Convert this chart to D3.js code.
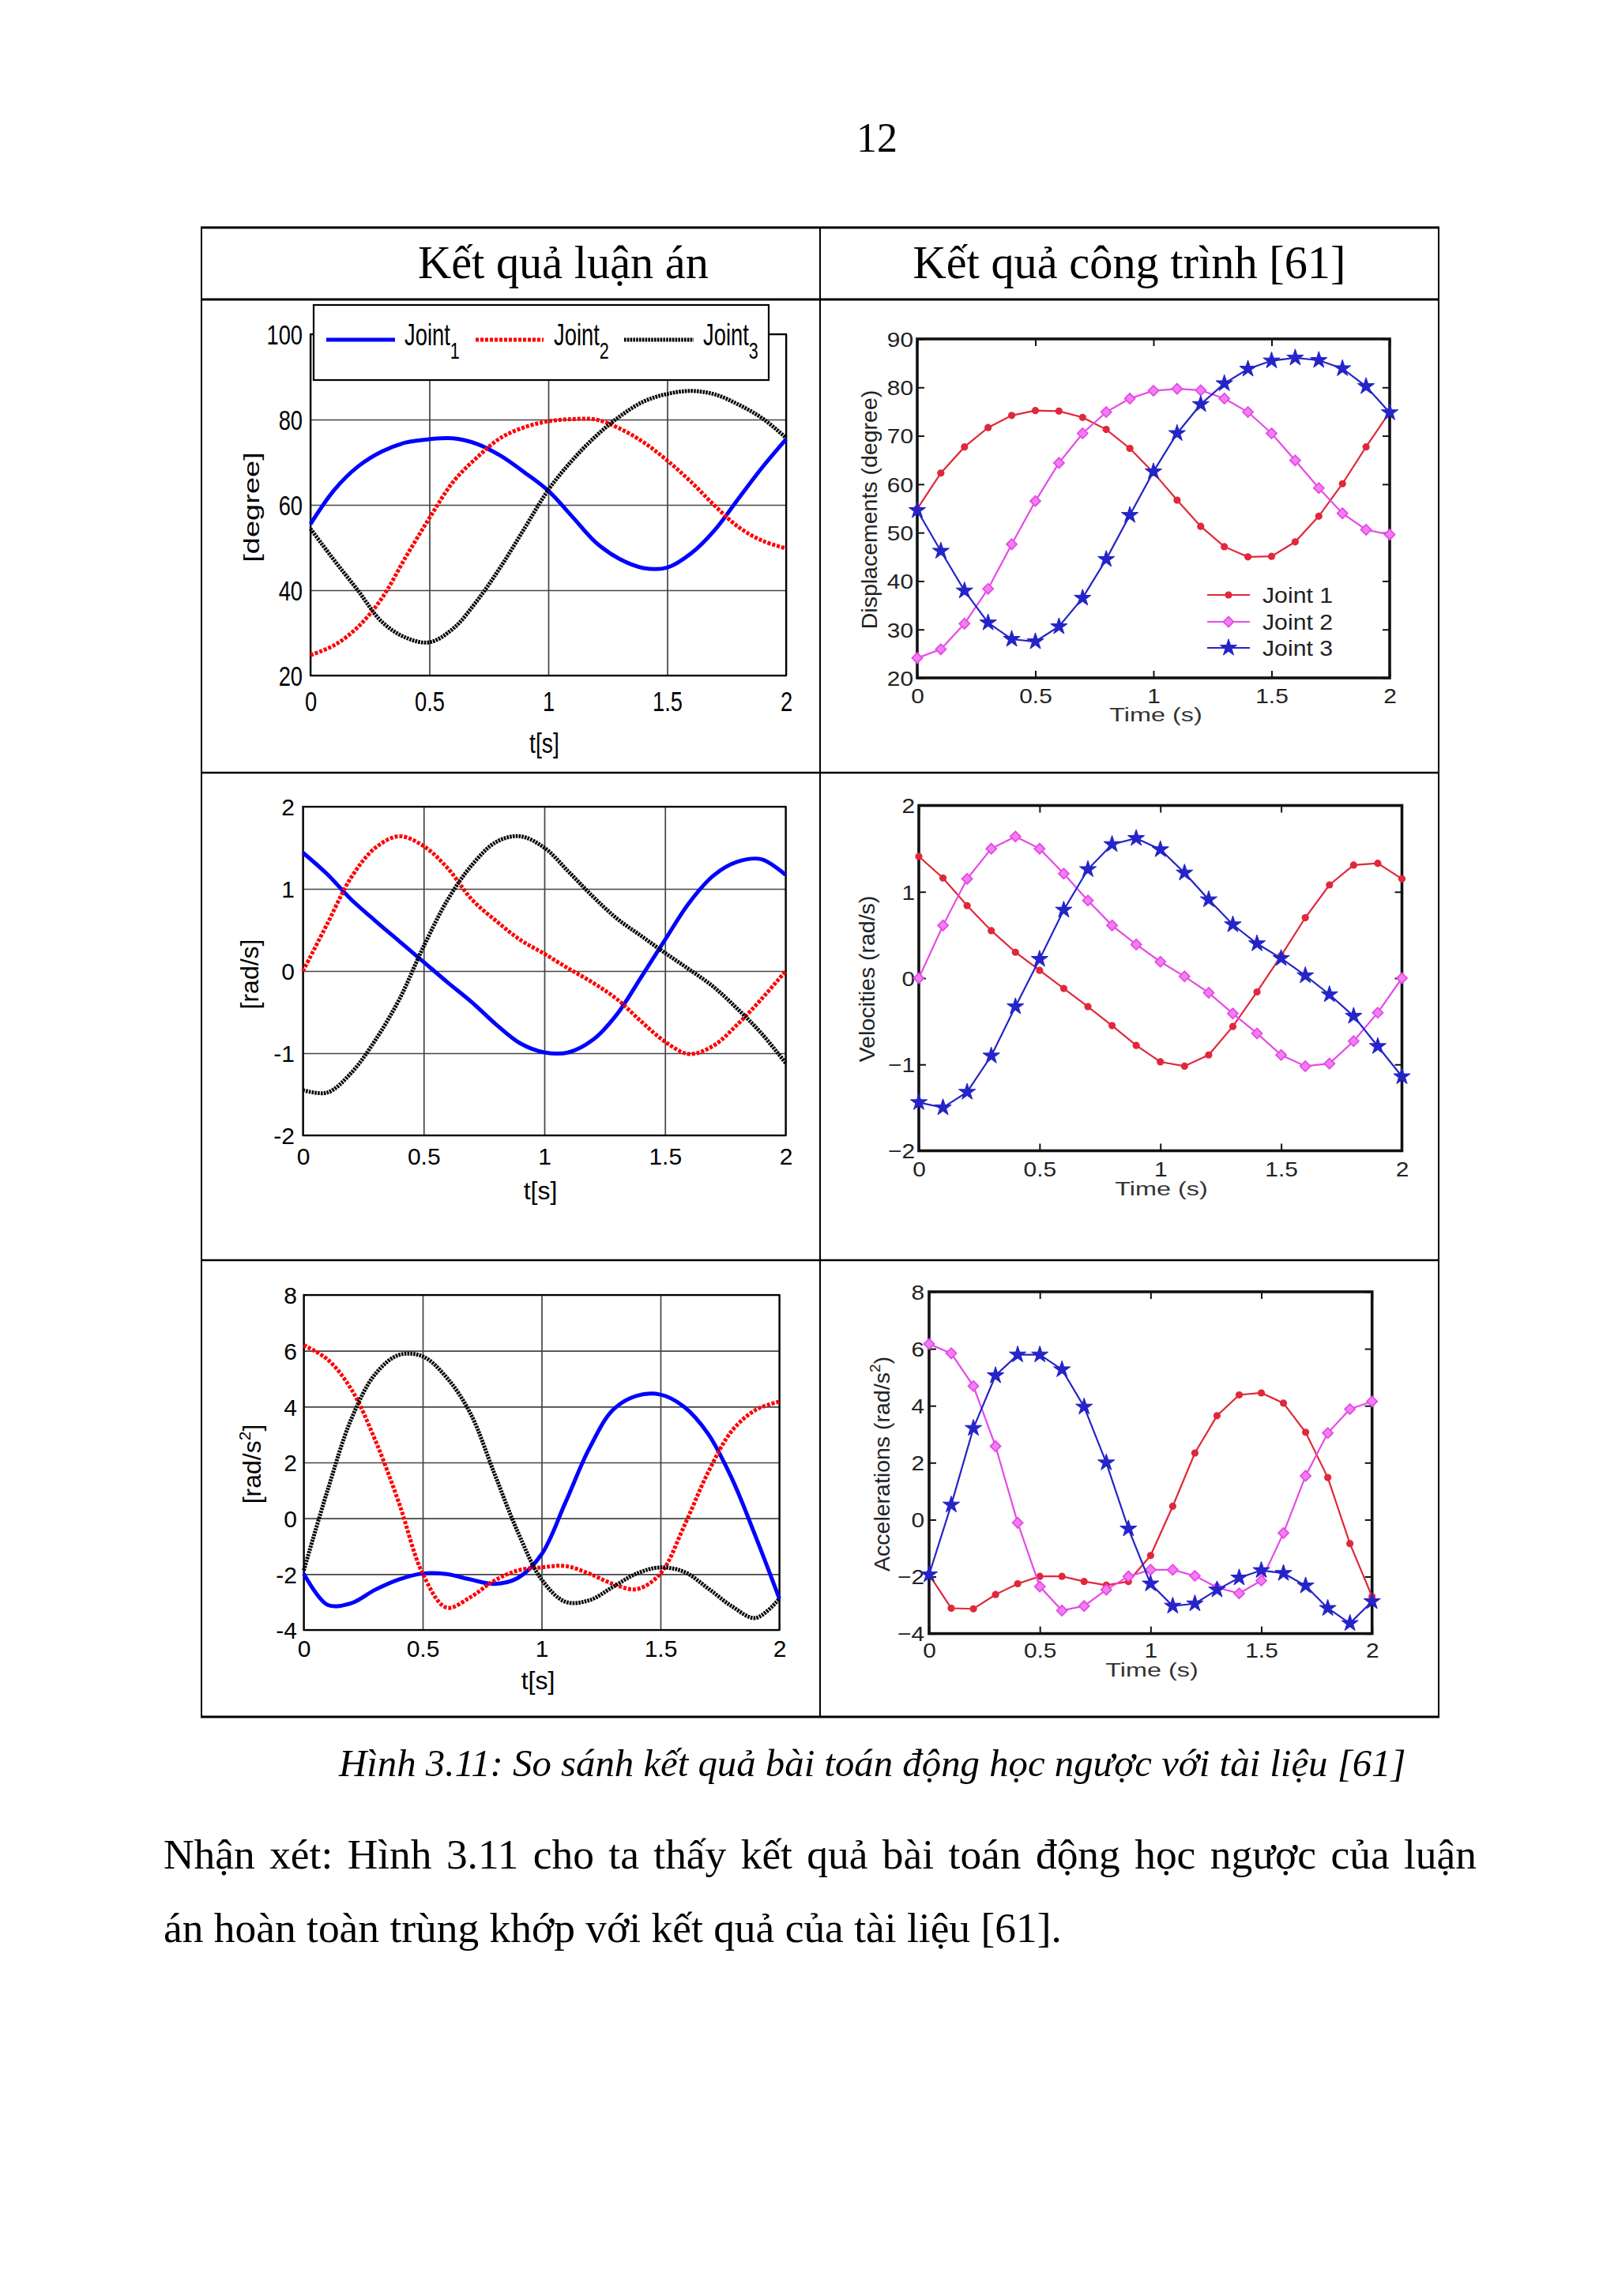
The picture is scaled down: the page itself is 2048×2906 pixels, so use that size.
<!DOCTYPE html>
<html><head><meta charset="utf-8">
<script src="https://cdn.jsdelivr.net/npm/d3@7"></script>
<style>html,body{margin:0;padding:0;background:#fff} svg{display:block}</style>
</head><body>
<svg id="c" width="2048" height="2906"></svg>
<script>
// ---------------- DATA ----------------
const TIME = [0, 0.1, 0.2, 0.3, 0.4, 0.5, 0.6, 0.7, 0.8, 0.9, 1.0, 1.1, 1.2, 1.3, 1.4, 1.5, 1.6, 1.7, 1.8, 1.9, 2.0];
const X_TICKS = [0, 0.5, 1, 1.5, 2];
const Y_TICKS_POS_L = [20, 40, 60, 80, 100];
const Y_TICKS_POS_R = [20, 30, 40, 50, 60, 70, 80, 90];
const Y_TICKS_VEL = [-2, -1, 0, 1, 2];
const Y_TICKS_ACC = [-4, -2, 0, 2, 4, 6, 8];

// left column (Kết quả luận án)
const POS_L_J1 = [55.5, 63.5, 69.0, 72.5, 74.6, 75.4, 75.6, 74.3, 71.5, 67.6, 63.3, 57.3, 51.2, 47.3, 45.2, 45.3, 48.6, 54.1, 61.5, 68.8, 75.4];
const POS_L_J2 = [24.8, 27.1, 31.4, 38.1, 47.7, 56.9, 65.4, 71.1, 75.7, 78.2, 79.6, 80.1, 80.0, 77.9, 74.7, 70.4, 65.4, 59.8, 54.8, 51.6, 49.8];
const POS_L_J3 = [54.4, 47.0, 39.9, 32.6, 28.9, 27.8, 31.0, 37.5, 45.5, 54.5, 63.5, 70.4, 76.1, 80.7, 84.2, 86.0, 86.7, 85.9, 83.5, 80.3, 75.7];
const VEL_L_J1 = [1.44, 1.18, 0.87, 0.61, 0.36, 0.11, -0.14, -0.38, -0.65, -0.88, -0.99, -0.99, -0.84, -0.53, -0.08, 0.38, 0.83, 1.16, 1.33, 1.36, 1.17];
const VEL_L_J2 = [0.0, 0.57, 1.14, 1.50, 1.64, 1.52, 1.25, 0.87, 0.61, 0.38, 0.21, 0.03, -0.14, -0.34, -0.61, -0.86, -1.01, -0.91, -0.65, -0.34, 0.0];
const VEL_L_J3 = [-1.45, -1.48, -1.24, -0.84, -0.34, 0.30, 0.87, 1.29, 1.57, 1.64, 1.50, 1.21, 0.91, 0.64, 0.43, 0.22, 0.02, -0.19, -0.46, -0.76, -1.12];
const ACC_L_J1 = [-1.98, -3.10, -3.04, -2.56, -2.19, -1.98, -2.00, -2.19, -2.35, -2.14, -1.29, 0.56, 2.49, 3.88, 4.39, 4.43, 3.99, 3.03, 1.43, -0.65, -2.88];
const ACC_L_J2 = [6.20, 5.69, 4.62, 2.81, 0.56, -1.98, -3.20, -2.83, -2.24, -1.87, -1.76, -1.71, -1.98, -2.35, -2.54, -1.98, -0.27, 1.64, 3.13, 3.88, 4.18];
const ACC_L_J3 = [-1.87, 1.00, 3.56, 5.16, 5.85, 5.80, 5.05, 3.77, 1.64, -0.49, -2.19, -2.99, -2.94, -2.46, -1.98, -1.76, -1.92, -2.51, -3.15, -3.57, -2.88];

// right column (Kết quả công trình [61])
const POS_R_J1 = [54.9, 62.3, 67.7, 71.7, 74.2, 75.2, 75.1, 73.8, 71.3, 67.4, 62.4, 56.7, 51.3, 47.1, 45.0, 45.1, 48.1, 53.4, 60.1, 67.7, 74.9];
const POS_R_J2 = [24.1, 25.9, 31.2, 38.4, 47.6, 56.5, 64.4, 70.5, 74.9, 77.7, 79.3, 79.7, 79.4, 77.7, 74.9, 70.5, 64.9, 59.2, 54.0, 50.6, 49.6];
const POS_R_J3 = [54.6, 46.2, 38.0, 31.4, 28.0, 27.5, 30.6, 36.5, 44.5, 53.6, 62.6, 70.5, 76.5, 80.8, 83.8, 85.5, 86.1, 85.6, 83.9, 80.2, 74.8];
const VEL_R_J1 = [1.41, 1.16, 0.84, 0.55, 0.30, 0.09, -0.12, -0.33, -0.55, -0.78, -0.97, -1.02, -0.89, -0.56, -0.16, 0.26, 0.70, 1.08, 1.31, 1.33, 1.15];
const VEL_R_J2 = [0.0, 0.61, 1.15, 1.50, 1.64, 1.50, 1.21, 0.90, 0.61, 0.39, 0.19, 0.02, -0.17, -0.41, -0.64, -0.89, -1.02, -0.99, -0.73, -0.40, 0.0];
const VEL_R_J3 = [-1.44, -1.50, -1.32, -0.90, -0.33, 0.22, 0.79, 1.26, 1.55, 1.62, 1.49, 1.22, 0.91, 0.62, 0.40, 0.23, 0.03, -0.19, -0.44, -0.79, -1.14];
const ACC_R_J1 = [-1.93, -3.11, -3.13, -2.63, -2.25, -1.99, -1.99, -2.17, -2.30, -2.17, -1.26, 0.47, 2.34, 3.65, 4.38, 4.45, 4.09, 3.07, 1.48, -0.84, -2.70];
const ACC_R_J2 = [6.17, 5.84, 4.69, 2.58, -0.11, -2.35, -3.19, -3.03, -2.46, -1.99, -1.76, -1.76, -1.97, -2.38, -2.59, -2.14, -0.47, 1.54, 3.04, 3.88, 4.15];
const ACC_R_J3 = [-1.93, 0.52, 3.21, 5.06, 5.79, 5.79, 5.27, 3.96, 2.00, -0.32, -2.25, -3.03, -2.95, -2.46, -2.04, -1.78, -1.88, -2.32, -3.11, -3.64, -2.87];

const LEGEND_LEFT = ['Joint', 'Joint', 'Joint'];
const LEGEND_LEFT_SUB = ['1', '2', '3'];
const LEGEND_RIGHT = ['Joint 1', 'Joint 2', 'Joint 3'];
const PAGE_NUMBER = '12';
const HEADERS = ['Kết quả luận án', 'Kết quả công trình [61]'];
const CAPTION = 'Hình 3.11: So sánh kết quả bài toán động học ngược với tài liệu [61]';
const BODY = ['Nhận xét: Hình 3.11 cho ta thấy kết quả bài toán động học ngược của luận',
              'án hoàn toàn trùng khớp với kết quả của tài liệu [61].'];

// ---------------- LAYOUT / STYLE ----------------
const SANS = "'Liberation Sans', Arial, Helvetica, sans-serif";
const SERIF = "'Liberation Serif', 'Times New Roman', serif";
const svg = d3.select('#c');
svg.append('rect').attr('width', 2048).attr('height', 2906).attr('fill', '#fff');

function put(parent, x, y, content, o = {}) {
  let tr = `translate(${x},${y})`;
  if (o.rot) tr += ` rotate(${o.rot})`;
  if ((o.sx || 1) !== 1 || (o.sy || 1) !== 1) tr += ` scale(${o.sx || 1},${o.sy || 1})`;
  const g = parent.append('g').attr('transform', tr);
  const size = o.size || 30;
  const t = g.append('text').attr('x', 0).attr('y', 0)
    .attr('font-family', o.family || SANS).attr('font-size', size)
    .attr('text-anchor', o.anchor || 'start').attr('fill', o.fill || '#000');
  if (o.dy) t.attr('dy', o.dy);
  if (o.italic) t.attr('font-style', 'italic');
  if (typeof content === 'string') t.text(content);
  else content.forEach(p => {
    const s = t.append('tspan').text(p.t);
    if (p.size) s.attr('font-size', p.size);
    if (p.dy) s.attr('dy', p.dy);
  });
  return t;
}

function styleAxisText(ax, size, sx, fill) {
  ax.selectAll('text').attr('font-size', size).attr('font-family', SANS).attr('fill', fill)
    .each(function () {
      const t = d3.select(this);
      const X = +t.attr('x') || 0;
      if (sx !== 1) t.attr('transform', `translate(${X},0) scale(${sx},1) translate(${-X},0)`);
    });
}

// ---------- table ----------
const TB = { l: 255, r: 1821, m: 1038, top: 288, h: 379, r1: 978, r2: 1595, bot: 2173 };
const tg = svg.append('g').attr('stroke', '#000');
[[TB.top, 3.2], [TB.h, 3], [TB.r1, 2.4], [TB.r2, 2.4], [TB.bot, 3.2]].forEach(([yy, w]) =>
  tg.append('line').attr('x1', TB.l - 1).attr('x2', TB.r + 1).attr('y1', yy).attr('y2', yy).attr('stroke-width', w));
[TB.l, TB.m, TB.r].forEach(xx =>
  tg.append('line').attr('x1', xx).attr('x2', xx).attr('y1', TB.top).attr('y2', TB.bot).attr('stroke-width', 2));

// page number & headers
put(svg, 1110, 192, PAGE_NUMBER, { family: SERIF, size: 52, anchor: 'middle' });
const h1 = put(svg, 529, 352, HEADERS[0], { family: SERIF, size: 58 });
const h2 = put(svg, 1429.5, 352, HEADERS[1], { family: SERIF, size: 58, anchor: 'middle' });
const hs = 58 * (370 / h1.node().getComputedTextLength() + 545 / h2.node().getComputedTextLength()) / 2;
h1.attr('font-size', hs); h2.attr('font-size', hs);

// ---------- left panels ----------
const LEFT_STYLE = [
  { c: '#0000ff', w: 5, dash: null },
  { c: '#ff0000', w: 5, dash: '4,2' },
  { c: '#000000', w: 5, dash: '2.6,1.2' }
];
const LEFT_PANELS = [
  { box: [393, 423, 995, 855], yd: [20, 100], yt: Y_TICKS_POS_L, series: [POS_L_J1, POS_L_J2, POS_L_J3],
    tick: { size: 35, sx: 0.78, padB: 20, padL: 10 },
    ylab: { x: 318, y: 642, size: 38, sy: 0.72, c: [{ t: '[degree]' }] },
    xlab: { x: 689, y: 953, size: 36, sx: 0.79 }, legend: true },
  { box: [383.5, 1021, 994.5, 1437], yd: [-2, 2], yt: Y_TICKS_VEL, series: [VEL_L_J1, VEL_L_J2, VEL_L_J3],
    tick: { size: 30, sx: 1, padB: 15.7, padL: 10.5 },
    ylab: { x: 315, y: 1233, size: 32, sy: 1, c: [{ t: '[rad/s]' }] },
    xlab: { x: 684, y: 1518, size: 32, sx: 1 } },
  { box: [384.5, 1639, 986.5, 2063], yd: [-4, 8], yt: Y_TICKS_ACC, series: [ACC_L_J1, ACC_L_J2, ACC_L_J3],
    tick: { size: 30, sx: 1, padB: 12.7, padL: 8.5 },
    ylab: { x: 318, y: 1853, size: 32, sy: 1, c: [{ t: '[rad/s' }, { t: '2', size: 21, dy: -13 }, { t: ']', size: 32, dy: 13 }] },
    xlab: { x: 681, y: 2138, size: 32, sx: 1 } }
];

LEFT_PANELS.forEach(p => {
  const [x0, y0, x1, y1] = p.box;
  const x = d3.scaleLinear().domain([0, 2]).range([x0, x1]);
  const y = d3.scaleLinear().domain(p.yd).range([y1, y0]);
  const g = svg.append('g');
  const ax = g.append('g').attr('transform', `translate(0,${y1})`)
    .call(d3.axisBottom(x).tickValues(X_TICKS).tickSize(-(y1 - y0)).tickPadding(p.tick.padB).tickFormat(d => String(d)));
  const ay = g.append('g').attr('transform', `translate(${x0},0)`)
    .call(d3.axisLeft(y).tickValues(p.yt).tickSize(-(x1 - x0)).tickPadding(p.tick.padL).tickFormat(d => String(d)));
  [ax, ay].forEach(a => {
    a.select('.domain').remove();
    a.selectAll('line').attr('stroke', '#444').attr('stroke-width', 1.7);
    styleAxisText(a, p.tick.size, p.tick.sx, '#000');
  });
  ay.selectAll('text').attr('dy', '0.36em');
  g.append('rect').attr('x', x0).attr('y', y0).attr('width', x1 - x0).attr('height', y1 - y0)
    .attr('fill', 'none').attr('stroke', '#000').attr('stroke-width', 2.2);
  const line = d3.line().x((d, i) => x(TIME[i])).y(d => y(d)).curve(d3.curveCatmullRom.alpha(0.5));
  p.series.forEach((s, k) => {
    const st = LEFT_STYLE[k];
    g.append('path').attr('d', line(s)).attr('fill', 'none').attr('stroke', st.c)
      .attr('stroke-width', st.w).attr('stroke-dasharray', st.dash).attr('stroke-linejoin', 'round');
  });
  put(g, p.xlab.x, p.xlab.y, 't[s]', { size: p.xlab.size, sx: p.xlab.sx, anchor: 'middle' });
  put(g, p.ylab.x, p.ylab.y, p.ylab.c, { size: p.ylab.size, rot: -90, sy: p.ylab.sy, anchor: 'middle', dy: '0.36em' });
  if (p.legend) {
    const lg = g.append('g');
    lg.append('rect').attr('x', 397).attr('y', 386).attr('width', 576).attr('height', 95)
      .attr('fill', '#fff').attr('stroke', '#000').attr('stroke-width', 2.2);
    const LX = [[413, 500, 512], [602, 688, 701], [790, 878, 890]];
    LX.forEach(([a, b, tx], k) => {
      const st = LEFT_STYLE[k];
      lg.append('line').attr('x1', a).attr('x2', b).attr('y1', 430).attr('y2', 430)
        .attr('stroke', st.c).attr('stroke-width', st.w).attr('stroke-dasharray', st.dash);
      put(lg, tx, 437, [{ t: LEGEND_LEFT[k] }, { t: LEGEND_LEFT_SUB[k], size: 30, dy: 17 }], { size: 38, sx: 0.72 });
    });
  }
});

// ---------- right panels ----------
const RC = ['#e0283a', '#e64ae6', '#2424c8'];
const RIGHT_PANELS = [
  { box: [1161, 429, 1759, 858], yd: [20, 90], yt: Y_TICKS_POS_R, series: [POS_R_J1, POS_R_J2, POS_R_J3],
    padB: 13.5, padL: 5, ylab: { x: 1100, y: 645, c: [{ t: 'Displacements (degree)' }] }, xlab: { x: 1463, y: 913 }, legend: true },
  { box: [1163, 1019.5, 1774.5, 1456.5], yd: [-2, 2], yt: Y_TICKS_VEL, series: [VEL_R_J1, VEL_R_J2, VEL_R_J3],
    padB: 14.5, padL: 5, ylab: { x: 1097, y: 1239, c: [{ t: 'Velocities (rad/s)' }] }, xlab: { x: 1470, y: 1513 } },
  { box: [1176, 1635, 1736.7, 2067.6], yd: [-4, 8], yt: Y_TICKS_ACC, series: [ACC_R_J1, ACC_R_J2, ACC_R_J3],
    padB: 11.5, padL: 6, ylab: { x: 1116, y: 1853, c: [{ t: 'Accelerations (rad/s' }, { t: '2', size: 19, dy: -12 }, { t: ')', size: 28.5, dy: 12 }] }, xlab: { x: 1458, y: 2122 } }
];
const fmtR = d => d < 0 ? '\u2212' + Math.abs(d) : String(d);

function drawMarkers(g, k, pts) {
  if (k === 0) {
    g.selectAll(null).data(pts).join('circle').attr('cx', d => d[0]).attr('cy', d => d[1]).attr('r', 4.6).attr('fill', RC[0]);
  } else if (k === 1) {
    g.selectAll(null).data(pts).join('path').attr('d', d3.symbol(d3.symbolSquare, 85)())
      .attr('transform', d => `translate(${d[0]},${d[1]}) rotate(45)`)
      .attr('fill', '#f27ef2').attr('stroke', RC[1]).attr('stroke-width', 1.8);
  } else {
    g.selectAll(null).data(pts).join('path').attr('d', d3.symbol(d3.symbolStar, 140)())
      .attr('transform', d => `translate(${d[0]},${d[1]})`).attr('fill', RC[2]).attr('stroke', RC[2]).attr('stroke-width', 1);
  }
}

RIGHT_PANELS.forEach(p => {
  const [x0, y0, x1, y1] = p.box;
  const x = d3.scaleLinear().domain([0, 2]).range([x0, x1]);
  const y = d3.scaleLinear().domain(p.yd).range([y1, y0]);
  const g = svg.append('g');
  const axes = [
    g.append('g').attr('transform', `translate(0,${y1})`).call(d3.axisBottom(x).tickValues(X_TICKS).tickSize(-9).tickPadding(p.padB).tickFormat(fmtR)),
    g.append('g').attr('transform', `translate(0,${y0})`).call(d3.axisTop(x).tickValues(X_TICKS).tickSize(-9).tickFormat('')),
    g.append('g').attr('transform', `translate(${x0},0)`).call(d3.axisLeft(y).tickValues(p.yt).tickSize(-9).tickPadding(p.padL).tickFormat(fmtR)),
    g.append('g').attr('transform', `translate(${x1},0)`).call(d3.axisRight(y).tickValues(p.yt).tickSize(-9).tickFormat(''))
  ];
  axes.forEach(a => {
    a.select('.domain').remove();
    a.selectAll('line').attr('stroke', '#111').attr('stroke-width', 2);
    styleAxisText(a, 26, 1.15, '#222');
  });
  axes[2].selectAll('text').attr('dy', '0.36em');
  g.append('rect').attr('x', x0).attr('y', y0).attr('width', x1 - x0).attr('height', y1 - y0)
    .attr('fill', 'none').attr('stroke', '#111').attr('stroke-width', 3.6);
  const line = d3.line().x((d, i) => x(TIME[i])).y(d => y(d));
  p.series.forEach((s, k) => {
    g.append('path').attr('d', line(s)).attr('fill', 'none').attr('stroke', RC[k]).attr('stroke-width', 2.2);
    drawMarkers(g.append('g'), k, s.map((v, i) => [x(TIME[i]), y(v)]));
  });
  put(g, p.xlab.x, p.xlab.y, 'Time (s)', { size: 24, sx: 1.35, anchor: 'middle', fill: '#333' });
  put(g, p.ylab.x, p.ylab.y, p.ylab.c, { size: 28.5, rot: -90, anchor: 'middle', dy: '0.34em', fill: '#222' });
  if (p.legend) {
    const LY = [753, 787, 820];
    LY.forEach((ly, k) => {
      g.append('line').attr('x1', 1528).attr('x2', 1582).attr('y1', ly).attr('y2', ly).attr('stroke', RC[k]).attr('stroke-width', 2.2);
      drawMarkers(g.append('g'), k, [[1555, ly]]);
      put(g, 1598, ly, LEGEND_RIGHT[k], { size: 27, sx: 1.12, dy: '0.36em', fill: '#222' });
    });
  }
});

// ---------- caption & body ----------
const cap = put(svg, 429, 2248, CAPTION, { family: SERIF, size: 50, italic: true });
cap.attr('font-size', 50 * 1351 / cap.node().getComputedTextLength());
const b2 = put(svg, 207, 2458, BODY[1], { family: SERIF, size: 52 });
const fs = 52 * 1137 / b2.node().getComputedTextLength();
b2.attr('font-size', fs);
const b1 = put(svg, 207, 2365, BODY[0], { family: SERIF, size: fs });
const w1 = b1.node().getComputedTextLength();
const nsp = BODY[0].split(' ').length - 1;
b1.attr('word-spacing', (1662 - w1) / nsp);
</script>
</body></html>
